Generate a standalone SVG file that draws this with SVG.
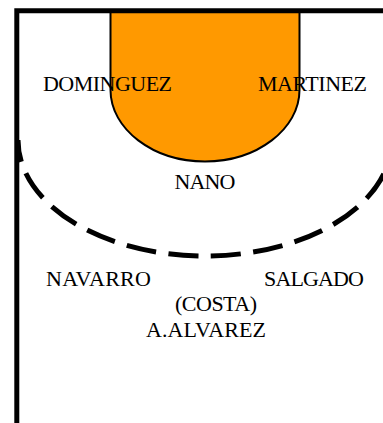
<svg xmlns="http://www.w3.org/2000/svg" width="383" height="423" viewBox="0 0 383 423">
<style>
text{font-family:"Liberation Serif","Times New Roman",serif;font-size:22px;fill:#000;text-anchor:middle}
</style>
<rect width="383" height="423" fill="#fff"/>
<g id="court">
<path id="key" d="M110.500 11V90C110.500 129 153 161.500 205 161.500S299.500 129 299.500 90V11Z" fill="#ff9900" stroke="#000" stroke-width="2"/>
<path id="arc" d="M18 140A187 116 0 0 0 392 140" fill="none" stroke="#000" stroke-width="5" stroke-dasharray="30 12.500" stroke-dashoffset="8"/>
<path id="border" d="M16.800 423V10.800H383" fill="none" stroke="#000" stroke-width="5"/>
</g>
<g id="DOMINGUEZ"><text x="107.500" y="91" textLength="129">DOMINGUEZ</text></g>
<g id="MARTINEZ"><text x="312.500" y="91" textLength="109">MARTINEZ</text></g>
<g id="NANO"><text x="205" y="189" textLength="61">NANO</text></g>
<g id="NAVARRO"><text x="98.500" y="286" textLength="105">NAVARRO</text></g>
<g id="SALGADO"><text x="314" y="286" textLength="100">SALGADO</text></g>
<g id="COSTA"><text x="216" y="311" textLength="82">(COSTA)</text></g>
<g id="ALVAREZ"><text x="206" y="337" textLength="120">A.ALVAREZ</text></g>
</svg>
